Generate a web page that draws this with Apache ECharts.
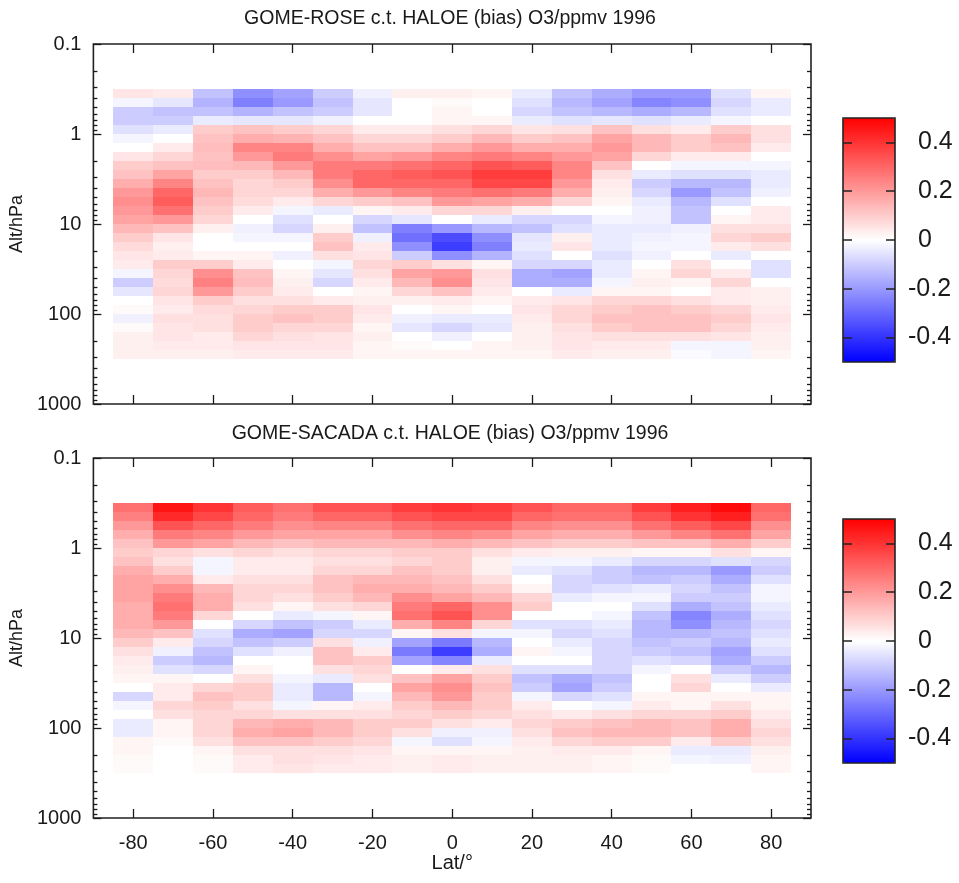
<!DOCTYPE html>
<html>
<head>
<meta charset="utf-8">
<script src="https://cdn.jsdelivr.net/npm/echarts@6/dist/echarts.min.js"></script>
<style>
  html, body { margin: 0; padding: 0; background: #ffffff; }
  #chart { width: 959px; height: 883px; }
</style>
</head>
<body>
<div id="chart"></div>
<script>
// Latitude bin centres (degrees), each bin 10 degrees wide
const latitudes = [-80, -70, -60, -50, -40, -30, -20, -10, 0, 10, 20, 30, 40, 50, 60, 70, 80];
const latBinWidth = 10;

// Pressure level boundaries (hPa), top to bottom
const pressureEdges = [0.316, 0.398, 0.501, 0.631, 0.794, 1.0, 1.26, 1.58, 2.0, 2.51,
  3.16, 3.98, 5.01, 6.31, 7.94, 10, 12.6, 15.8, 20, 25.1,
  31.6, 39.8, 50.1, 63.1, 79.4, 100, 126, 158, 200, 251, 316];

// Pressure axis ticks
const pressureTicks = [0.1, 1, 10, 100, 1000];
const pressureTickLabels = ['0.1', '1', '10', '100', '1000'];
const pressureMinorTicks = [0.2, 0.3, 0.4, 0.5, 0.6, 0.7, 0.8, 0.9,
  2, 3, 4, 5, 6, 7, 8, 9, 20, 30, 40, 50, 60, 70, 80, 90,
  200, 300, 400, 500, 600, 700, 800, 900];
const latTicks = [-80, -60, -40, -20, 0, 20, 40, 60, 80];
const biasTicks = [-0.4, -0.2, 0, 0.2, 0.4];

// GOME-ROSE minus HALOE O3 bias (ppmv), one array per latitude bin, top level first
const roseS80 = [0.05,-0.02,-0.10,-0.10,-0.06,-0.02,0.00,0.05,0.10,0.12,0.16,0.20,0.22,0.20,0.18,0.14,0.10,0.07,0.05,0.04,-0.02,-0.10,-0.05,0.00,0.01,-0.03,0.01,0.03,0.03,0.03];
const roseS70 = [0.04,-0.05,-0.12,-0.10,-0.04,0.00,0.04,0.08,0.12,0.18,0.24,0.30,0.32,0.28,0.20,0.12,0.05,0.03,0.04,0.10,0.08,0.07,0.08,0.05,0.04,0.06,0.05,0.05,0.04,0.03];
const roseS60 = [-0.12,-0.15,-0.12,-0.04,0.10,0.12,0.13,0.12,0.13,0.10,0.12,0.14,0.12,0.10,0.08,0.03,0.00,0.00,0.02,0.10,0.22,0.25,0.20,0.10,0.07,0.06,0.06,0.04,0.04,0.03];
const roseS50 = [-0.22,-0.25,-0.15,-0.05,0.12,0.16,0.24,0.20,0.14,0.10,0.08,0.08,0.07,0.04,0.00,-0.03,-0.02,0.00,0.02,0.04,0.12,0.13,0.10,0.06,0.08,0.10,0.10,0.08,0.05,0.04];
const roseS40 = [-0.18,-0.20,-0.12,-0.05,0.10,0.15,0.24,0.26,0.20,0.14,0.10,0.08,0.04,-0.02,-0.06,-0.08,-0.02,0.00,-0.03,0.00,0.02,0.03,0.04,0.06,0.10,0.12,0.08,0.06,0.05,0.04];
const roseS30 = [-0.10,-0.12,-0.10,-0.03,0.08,0.12,0.16,0.22,0.26,0.26,0.22,0.16,0.08,-0.04,0.00,0.03,0.10,0.12,0.06,-0.02,-0.05,-0.08,0.00,0.04,0.10,0.10,0.08,0.05,0.05,0.04];
const roseS20 = [-0.03,-0.05,-0.05,0.00,0.04,0.08,0.12,0.18,0.26,0.30,0.30,0.20,0.10,0.02,-0.08,-0.12,-0.03,0.04,0.05,0.08,0.06,0.04,0.02,0.03,0.05,0.04,0.02,0.03,0.02,0.02];
const roseS10 = [0.03,0.00,0.00,0.00,0.04,0.08,0.12,0.20,0.28,0.32,0.30,0.24,0.12,0.04,-0.05,-0.25,-0.28,-0.22,-0.10,0.10,0.18,0.14,0.08,0.03,0.00,-0.03,-0.05,0.00,0.01,0.02];
const roseEq  = [0.03,0.01,0.02,0.02,0.06,0.10,0.16,0.24,0.30,0.34,0.30,0.26,0.20,0.08,0.00,-0.20,-0.35,-0.38,-0.22,0.06,0.20,0.22,0.12,0.04,0.02,-0.04,-0.08,-0.03,0.00,0.02];
const roseN10 = [0.02,0.00,0.00,0.02,0.08,0.14,0.20,0.26,0.34,0.38,0.36,0.28,0.18,0.08,-0.04,-0.14,-0.22,-0.25,-0.15,0.02,0.06,0.05,0.04,0.02,0.00,-0.04,-0.05,0.00,0.02,0.02];
const roseN20 = [-0.04,-0.06,-0.08,-0.04,0.05,0.10,0.16,0.24,0.32,0.38,0.36,0.26,0.16,0.03,-0.08,-0.12,-0.05,-0.04,-0.06,-0.08,-0.16,-0.16,0.00,0.04,0.05,0.04,0.03,0.03,0.03,0.02];
const roseN30 = [-0.12,-0.14,-0.12,-0.06,0.06,0.12,0.16,0.20,0.24,0.24,0.20,0.16,0.08,0.00,-0.08,-0.06,0.03,0.05,0.00,-0.08,-0.18,-0.16,-0.04,0.05,0.08,0.08,0.06,0.05,0.05,0.04];
const roseN40 = [-0.16,-0.18,-0.14,-0.05,0.12,0.18,0.20,0.18,0.12,0.06,0.04,0.03,0.02,0.00,-0.02,-0.04,-0.04,-0.04,-0.06,-0.04,-0.04,-0.02,0.02,0.08,0.10,0.12,0.10,0.06,0.04,0.03];
const roseN50 = [-0.20,-0.24,-0.16,-0.06,0.06,0.14,0.14,0.08,0.00,-0.04,-0.10,-0.08,-0.04,-0.03,-0.03,-0.04,-0.03,-0.02,-0.03,0.00,0.02,0.03,0.02,0.08,0.12,0.12,0.12,0.06,0.04,0.03];
const roseN60 = [-0.20,-0.22,-0.14,-0.04,0.04,0.10,0.10,0.04,-0.02,-0.06,-0.14,-0.20,-0.14,-0.12,-0.12,-0.03,-0.02,-0.02,0.00,0.06,0.08,0.02,0.00,0.06,0.10,0.12,0.12,0.06,-0.02,-0.01];
const roseN70 = [-0.06,-0.08,-0.06,-0.02,0.10,0.14,0.12,0.04,-0.02,-0.06,-0.14,-0.12,-0.06,0.00,0.02,0.06,0.08,0.04,-0.04,0.00,0.04,0.08,0.04,0.04,0.08,0.10,0.08,0.05,-0.02,-0.02];
const roseN80 = [0.02,-0.04,-0.04,0.00,0.06,0.06,0.04,0.00,-0.02,-0.04,-0.04,-0.03,0.00,0.04,0.04,0.06,0.10,0.06,0.00,-0.06,-0.06,0.00,0.03,0.03,0.04,0.05,0.04,0.03,0.03,0.02];

// GOME-SACADA minus HALOE O3 bias (ppmv)
const sacS80 = [0.28,0.25,0.20,0.16,0.12,0.10,0.12,0.16,0.18,0.18,0.18,0.16,0.16,0.16,0.14,0.10,0.06,0.04,0.03,0.02,0.00,-0.08,-0.02,0.00,-0.04,-0.04,0.02,0.02,0.01,0.01];
const sacS70 = [0.46,0.42,0.34,0.26,0.20,0.08,0.06,0.10,0.16,0.22,0.26,0.28,0.26,0.20,0.12,0.04,-0.03,-0.10,-0.06,0.02,0.04,0.04,0.08,0.06,0.02,0.02,0.01,0.00,0.00,0.00];
const sacS60 = [0.40,0.36,0.30,0.24,0.18,0.06,-0.02,-0.02,0.04,0.14,0.16,0.16,0.08,0.00,-0.06,-0.08,-0.12,-0.14,-0.08,0.00,0.08,0.12,0.10,0.08,0.08,0.08,0.06,0.02,0.01,0.01];
const sacS50 = [0.32,0.30,0.26,0.20,0.14,0.08,0.04,0.04,0.06,0.08,0.08,0.06,0.00,-0.08,-0.16,-0.12,-0.06,0.00,0.02,0.06,0.10,0.10,0.06,0.08,0.14,0.16,0.12,0.06,0.04,0.04];
const sacS40 = [0.28,0.26,0.22,0.18,0.12,0.06,0.04,0.04,0.06,0.08,0.06,0.02,-0.04,-0.12,-0.18,-0.10,-0.03,0.00,0.00,-0.02,-0.04,-0.04,-0.02,0.06,0.16,0.18,0.12,0.06,0.06,0.05];
const sacS30 = [0.34,0.30,0.24,0.18,0.14,0.08,0.06,0.08,0.12,0.12,0.10,0.06,-0.02,-0.10,-0.08,0.06,0.12,0.12,0.06,-0.04,-0.14,-0.14,0.02,0.06,0.14,0.14,0.10,0.06,0.05,0.04];
const sacS20 = [0.34,0.30,0.24,0.18,0.14,0.08,0.06,0.08,0.14,0.16,0.14,0.08,0.02,-0.04,-0.08,-0.03,0.04,0.10,0.08,0.06,0.00,-0.02,0.04,0.06,0.10,0.10,0.08,0.05,0.04,0.04];
const sacS10 = [0.38,0.34,0.28,0.22,0.14,0.10,0.08,0.12,0.14,0.16,0.22,0.26,0.28,0.16,0.02,-0.18,-0.26,-0.18,0.00,0.12,0.18,0.14,0.10,0.08,0.10,0.06,-0.02,0.02,0.03,0.03];
const sacEq  = [0.40,0.36,0.30,0.24,0.16,0.10,0.10,0.10,0.12,0.14,0.18,0.30,0.34,0.24,0.06,-0.26,-0.38,-0.24,0.04,0.18,0.22,0.20,0.14,0.10,0.06,-0.03,-0.06,0.02,0.04,0.04];
const sacN10 = [0.38,0.36,0.30,0.22,0.14,0.06,0.03,0.03,0.06,0.10,0.14,0.22,0.22,0.08,-0.02,-0.14,-0.16,-0.04,0.06,0.10,0.12,0.10,0.10,0.08,0.04,-0.03,-0.02,0.02,0.03,0.03];
const sacN20 = [0.34,0.30,0.24,0.18,0.12,0.04,-0.02,-0.04,0.00,0.02,0.08,0.10,0.00,-0.06,-0.02,0.00,0.02,0.00,-0.06,-0.12,-0.10,-0.02,0.04,0.06,0.08,0.06,0.04,0.03,0.03,0.03];
const sacN30 = [0.30,0.28,0.22,0.16,0.10,0.03,-0.02,-0.06,-0.08,-0.08,-0.04,0.00,0.00,-0.06,-0.08,-0.04,-0.02,0.00,-0.06,-0.16,-0.18,-0.08,0.00,0.04,0.10,0.12,0.08,0.04,0.03,0.03];
const sacN40 = [0.30,0.28,0.22,0.16,0.10,0.03,-0.04,-0.10,-0.10,-0.06,-0.02,0.00,-0.02,-0.04,-0.06,-0.08,-0.08,-0.08,-0.08,-0.12,-0.10,-0.06,-0.02,0.06,0.12,0.14,0.10,0.04,0.02,0.02];
const sacN50 = [0.38,0.34,0.28,0.20,0.12,0.02,-0.08,-0.14,-0.12,-0.04,-0.02,-0.06,-0.12,-0.14,-0.14,-0.12,-0.10,-0.06,-0.02,0.00,0.00,0.02,0.04,0.08,0.14,0.14,0.10,0.02,0.01,0.01];
const sacN60 = [0.44,0.40,0.32,0.24,0.12,0.02,-0.08,-0.14,-0.10,-0.08,-0.10,-0.16,-0.24,-0.22,-0.14,-0.10,-0.12,-0.08,0.00,0.06,0.08,0.02,0.02,0.08,0.12,0.12,0.04,-0.04,-0.02,0.00];
const sacN70 = [0.48,0.44,0.36,0.28,0.16,0.06,-0.06,-0.20,-0.16,-0.12,-0.10,-0.12,-0.16,-0.14,-0.12,-0.14,-0.18,-0.16,-0.10,-0.04,0.00,0.02,0.06,0.10,0.16,0.16,0.10,-0.04,-0.03,0.00];
const sacN80 = [0.30,0.28,0.22,0.18,0.10,0.02,-0.08,-0.10,-0.06,-0.02,-0.02,-0.04,-0.06,-0.08,-0.06,-0.04,-0.06,-0.10,-0.14,-0.10,-0.04,0.02,0.02,0.04,0.06,0.08,0.06,0.03,0.02,0.02];

const roseColumns = [roseS80, roseS70, roseS60, roseS50, roseS40, roseS30, roseS20, roseS10, roseEq,
  roseN10, roseN20, roseN30, roseN40, roseN50, roseN60, roseN70, roseN80];
const sacadaColumns = [sacS80, sacS70, sacS60, sacS50, sacS40, sacS30, sacS20, sacS10, sacEq,
  sacN10, sacN20, sacN30, sacN40, sacN50, sacN60, sacN70, sacN80];

const FONT = '"Liberation Sans", Arial, Helvetica, sans-serif';
const INK = '#1a1a1a';

// [lat, log10(p top), log10(p bottom), bias]
function buildCells(columns) {
  const cells = [];
  columns.forEach(function (col, j) {
    col.forEach(function (v, i) {
      cells.push([latitudes[j], Math.log10(pressureEdges[i]), Math.log10(pressureEdges[i + 1]), v]);
    });
  });
  return cells;
}

function renderCell(params, api) {
  const lat = api.value(0);
  const a = api.coord([lat - latBinWidth / 2, api.value(1)]);
  const b = api.coord([lat + latBinWidth / 2, api.value(2)]);
  const x0 = Math.round(Math.min(a[0], b[0]));
  const x1 = Math.round(Math.max(a[0], b[0]));
  const y0 = Math.round(Math.min(a[1], b[1]));
  const y1 = Math.round(Math.max(a[1], b[1]));
  return {
    type: 'rect',
    shape: { x: x0, y: y0, width: x1 - x0, height: y1 - y0 },
    style: { fill: api.visual('color') }
  };
}

const logMajor = pressureTicks.map(Math.log10);
const logMinor = pressureMinorTicks.map(Math.log10);

function latAxes(gridIndex, withLabels) {
  const base = {
    gridIndex: gridIndex, type: 'value', min: -90, max: 90,
    axisLine: { show: false, onZero: false },
    splitLine: { show: false },
    axisTick: { show: true, inside: true, length: 9, customValues: latTicks,
      lineStyle: { color: INK, width: 1.3 } }
  };
  const bottom = Object.assign({}, base, {
    position: 'bottom',
    axisLabel: withLabels
      ? { show: true, customValues: latTicks, margin: 15, fontSize: 20, fontFamily: FONT, color: INK }
      : { show: false }
  });
  if (withLabels) {
    Object.assign(bottom, { name: 'Lat/°', nameLocation: 'middle', nameGap: 34,
      nameTextStyle: { fontSize: 20, fontFamily: FONT, color: INK } });
  }
  const top = Object.assign({}, base, { position: 'top', axisLabel: { show: false } });
  return [bottom, top];
}

function pressureAxes(gridIndex) {
  const base = {
    gridIndex: gridIndex, type: 'value', min: -1, max: 3, inverse: true,
    axisLine: { show: false, onZero: false },
    splitLine: { show: false }
  };
  const tickStyle = { color: INK, width: 1.3 };
  return [
    Object.assign({}, base, {
      position: 'left',
      name: 'Alt/hPa', nameLocation: 'middle', nameGap: 62, nameRotate: 90,
      nameTextStyle: { fontSize: 18, fontFamily: FONT, color: INK },
      axisTick: { show: true, inside: true, length: 8, customValues: logMajor, lineStyle: tickStyle },
      axisLabel: { show: true, customValues: logMajor, margin: 12, fontSize: 20, fontFamily: FONT, color: INK,
        formatter: function (v) { return pressureTickLabels[logMajor.findIndex(function (t) { return Math.abs(t - v) < 1e-6; })]; } }
    }),
    Object.assign({}, base, {
      position: 'left',
      axisTick: { show: true, inside: true, length: 4, customValues: logMinor, lineStyle: tickStyle },
      axisLabel: { show: false }
    }),
    Object.assign({}, base, {
      position: 'right',
      axisTick: { show: true, inside: true, length: 8, customValues: logMajor, lineStyle: tickStyle },
      axisLabel: { show: false }
    }),
    Object.assign({}, base, {
      position: 'right',
      axisTick: { show: true, inside: true, length: 4, customValues: logMinor, lineStyle: tickStyle },
      axisLabel: { show: false }
    })
  ];
}

function colorbarAxes(gridIndex) {
  const base = {
    gridIndex: gridIndex, type: 'value', min: -0.5, max: 0.5, z: 5,
    axisLine: { show: false, onZero: false },
    splitLine: { show: false }
  };
  const tickStyle = { color: '#222', width: 1.5 };
  const labelStyle = { fontSize: 25, fontFamily: FONT, color: INK };
  const pos = biasTicks.filter(function (v) { return v >= 0; });
  const neg = biasTicks.filter(function (v) { return v < 0; });
  return [
    Object.assign({}, base, {
      position: 'left',
      axisTick: { show: true, inside: true, length: 9, customValues: biasTicks, lineStyle: tickStyle },
      axisLabel: { show: false }
    }),
    Object.assign({}, base, {
      position: 'right',
      axisTick: { show: true, inside: true, length: 9, customValues: biasTicks, lineStyle: tickStyle },
      axisLabel: Object.assign({ show: true, customValues: pos, margin: 23, align: 'left',
        formatter: function (v) { return String(Math.round(v * 10) / 10); } }, labelStyle)
    }),
    Object.assign({}, base, {
      position: 'right',
      axisTick: { show: false },
      axisLabel: Object.assign({ show: true, customValues: neg, margin: 13, align: 'left',
        formatter: function (v) { return String(Math.round(v * 10) / 10); } }, labelStyle)
    })
  ];
}

const frame = { show: true, borderColor: '#222', borderWidth: 1.6, backgroundColor: 'transparent' };

const option = {
  animation: false,
  backgroundColor: '#ffffff',
  graphic: [
    { type: 'text', x: 450, y: 19, style: { text: 'GOME-ROSE c.t. HALOE (bias) O3/ppmv 1996',
      align: 'center', verticalAlign: 'middle', fontSize: 19.5, fontFamily: FONT, fill: INK } },
    { type: 'text', x: 450, y: 434, style: { text: 'GOME-SACADA c.t. HALOE (bias) O3/ppmv 1996',
      align: 'center', verticalAlign: 'middle', fontSize: 19.5, fontFamily: FONT, fill: INK } }
  ],
  grid: [
    Object.assign({ left: 93, top: 44, width: 718, height: 360 }, frame),
    Object.assign({ left: 93, top: 458, width: 718, height: 360 }, frame),
    Object.assign({ left: 843, top: 118, width: 52, height: 244, z: 5 }, frame),
    Object.assign({ left: 843, top: 519, width: 52, height: 244, z: 5 }, frame)
  ],
  xAxis: [].concat(
    latAxes(0, false),
    latAxes(1, true),
    [{ gridIndex: 2, type: 'value', show: false, min: 0, max: 1 },
     { gridIndex: 3, type: 'value', show: false, min: 0, max: 1 }]
  ),
  yAxis: [].concat(pressureAxes(0), pressureAxes(1), colorbarAxes(2), colorbarAxes(3)),
  visualMap: [
    { type: 'continuous', min: -0.5, max: 0.5, dimension: 3, seriesIndex: 0,
      inRange: { color: ['#0000ff', '#ffffff', '#ff0000'] },
      left: 843, top: 118, itemWidth: 52, itemHeight: 244, padding: 0,
      calculable: false, hoverLink: false, z: 1 },
    { type: 'continuous', min: -0.5, max: 0.5, dimension: 3, seriesIndex: 1,
      inRange: { color: ['#0000ff', '#ffffff', '#ff0000'] },
      left: 843, top: 519, itemWidth: 52, itemHeight: 244, padding: 0,
      calculable: false, hoverLink: false, z: 1 }
  ],
  series: [
    { type: 'custom', name: 'GOME-ROSE', xAxisIndex: 0, yAxisIndex: 0,
      renderItem: renderCell, encode: { x: 0, y: [1, 2] }, data: buildCells(roseColumns) },
    { type: 'custom', name: 'GOME-SACADA', xAxisIndex: 2, yAxisIndex: 4,
      renderItem: renderCell, encode: { x: 0, y: [1, 2] }, data: buildCells(sacadaColumns) }
  ]
};

const chart = echarts.init(document.getElementById('chart'), null, { renderer: 'canvas' });
chart.setOption(option);
</script>
</body>
</html>
